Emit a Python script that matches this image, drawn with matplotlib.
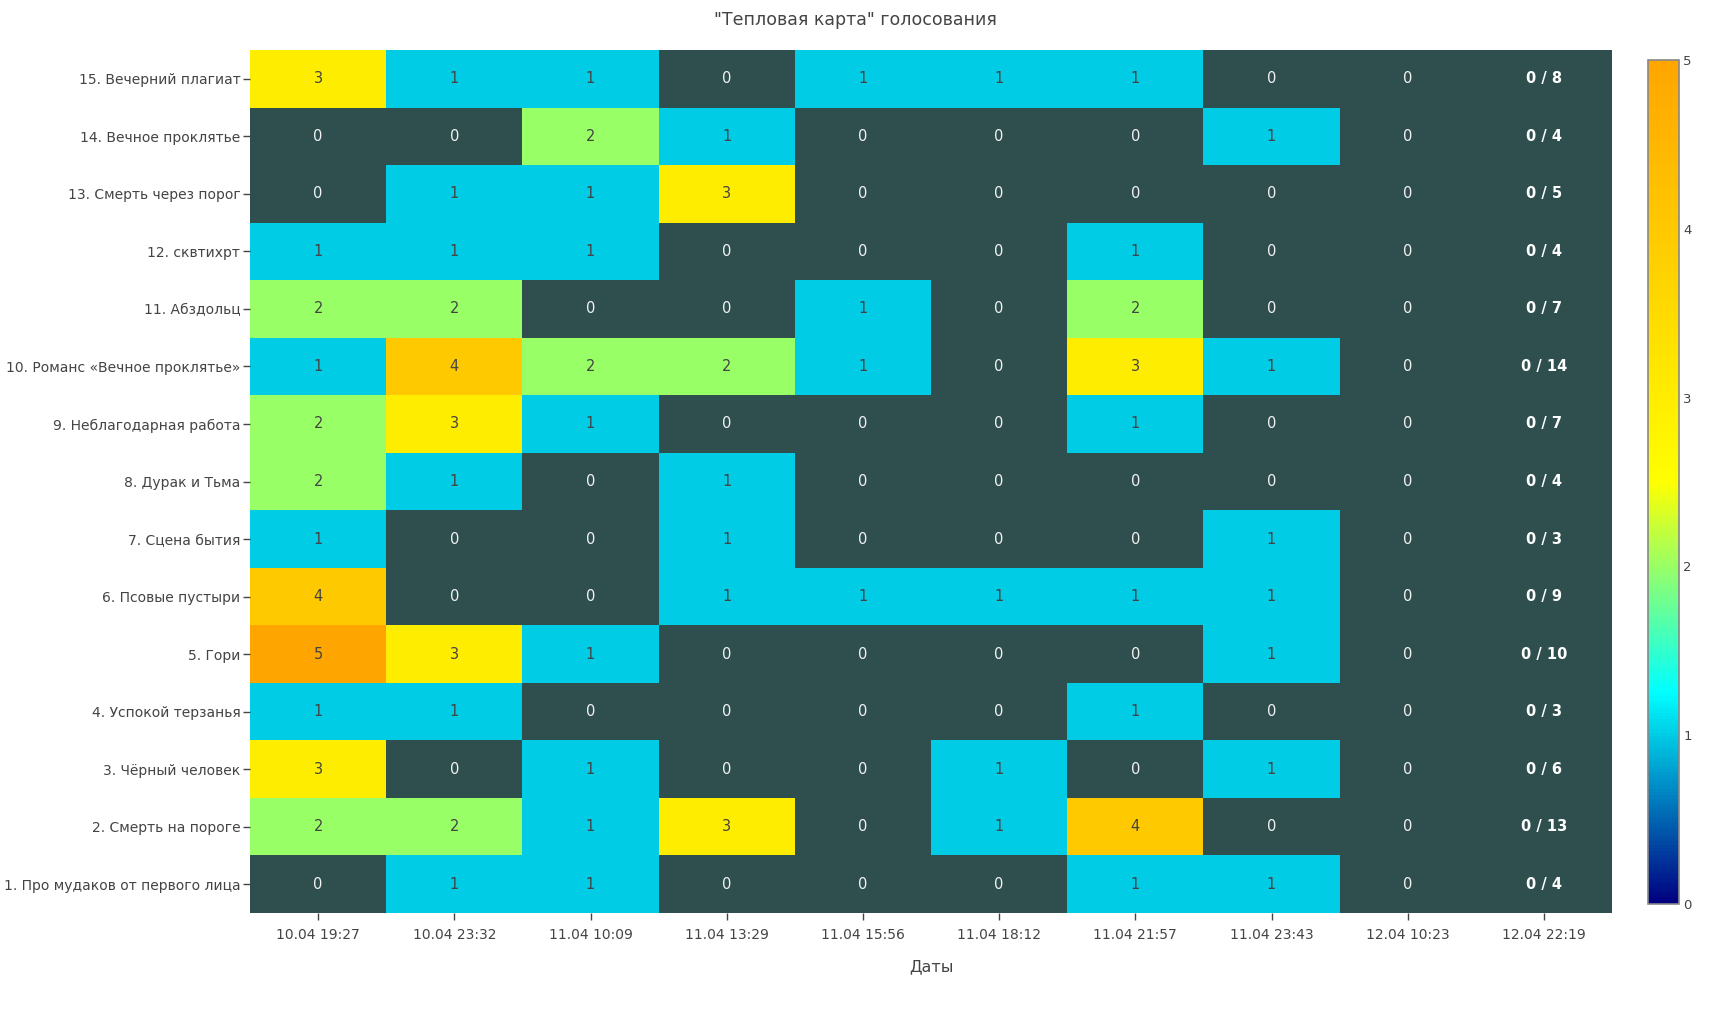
import numpy as np
import matplotlib
matplotlib.use("Agg")
import matplotlib.pyplot as plt
from matplotlib.colors import LinearSegmentedColormap

plt.rcParams['font.family'] = ['DejaVu Sans']

# ---- data ----
dates = ["10.04 19:27", "10.04 23:32", "11.04 10:09", "11.04 13:29", "11.04 15:56",
         "11.04 18:12", "11.04 21:57", "11.04 23:43", "12.04 10:23", "12.04 22:19"]

songs = ["1. Про мудаков от первого лица", "2. Смерть на пороге", "3. Чёрный человек",
         "4. Успокой терзанья", "5. Гори", "6. Псовые пустыри", "7. Сцена бытия",
         "8. Дурак и Тьма", "9. Неблагодарная работа", "10. Романс «Вечное проклятье»",
         "11. Абздольц", "12. сквтихрт", "13. Смерть через порог", "14. Вечное проклятье",
         "15. Вечерний плагиат"]

# votes per song (rows, bottom to top) for each date column
votes_01 = [0, 1, 1, 0, 0, 0, 1, 1, 0, 0]
votes_02 = [2, 2, 1, 3, 0, 1, 4, 0, 0, 0]
votes_03 = [3, 0, 1, 0, 0, 1, 0, 1, 0, 0]
votes_04 = [1, 1, 0, 0, 0, 0, 1, 0, 0, 0]
votes_05 = [5, 3, 1, 0, 0, 0, 0, 1, 0, 0]
votes_06 = [4, 0, 0, 1, 1, 1, 1, 1, 0, 0]
votes_07 = [1, 0, 0, 1, 0, 0, 0, 1, 0, 0]
votes_08 = [2, 1, 0, 1, 0, 0, 0, 0, 0, 0]
votes_09 = [2, 3, 1, 0, 0, 0, 1, 0, 0, 0]
votes_10 = [1, 4, 2, 2, 1, 0, 3, 1, 0, 0]
votes_11 = [2, 2, 0, 0, 1, 0, 2, 0, 0, 0]
votes_12 = [1, 1, 1, 0, 0, 0, 1, 0, 0, 0]
votes_13 = [0, 1, 1, 3, 0, 0, 0, 0, 0, 0]
votes_14 = [0, 0, 2, 1, 0, 0, 0, 1, 0, 0]
votes_15 = [3, 1, 1, 0, 1, 1, 1, 0, 0, 0]

z = np.array([votes_01, votes_02, votes_03, votes_04, votes_05, votes_06, votes_07,
              votes_08, votes_09, votes_10, votes_11, votes_12, votes_13, votes_14,
              votes_15], dtype=float)
totals = z.sum(axis=1).astype(int)

# ---- figure ----
W, H = 1711, 1013
fig = plt.figure(figsize=(W / 100, H / 100), dpi=100)
ax = fig.add_axes([250 / W, 1 - 913 / H, (1612 - 250) / W, (913 - 50) / H])

cmap = LinearSegmentedColormap.from_list(
    "vote", [(0.0, "#000080"), (0.25, "#00FFFF"), (0.5, "#FFFF00"), (1.0, "#FFA500")])
bg = "#2F4F4F"
ax.set_facecolor(bg)
zm = np.ma.masked_where(z == 0, z)
mesh = ax.pcolormesh(np.arange(len(dates) + 1) - 0.5, np.arange(len(songs) + 1) - 0.5,
                     zm, cmap=cmap, vmin=0, vmax=5)

nrows, ncols = z.shape
for i in range(nrows):
    for j in range(ncols):
        v = int(z[i, j])
        if j == ncols - 1:
            ax.text(j, i, f"{v} / {totals[i]}", ha="center", va="center",
                    fontsize=10.5, fontweight="bold", color="white")
        elif v == 0:
            ax.text(j, i, "0", ha="center", va="center", fontsize=10.5, color="#F2F2F2")
        else:
            ax.text(j, i, str(v), ha="center", va="center", fontsize=10.5, color="#444444")

ax.set_xlim(-0.5, ncols - 0.5)
ax.set_ylim(-0.5, nrows - 0.5)
ax.set_xticks(range(ncols))
ax.set_xticklabels(dates)
ax.set_yticks(range(nrows))
ax.set_yticklabels(songs)
for s in ax.spines.values():
    s.set_visible(False)
ax.tick_params(axis="both", colors="#444444", labelsize=10, length=5, width=1)
ax.tick_params(axis="x", pad=6)
ax.tick_params(axis="y", pad=2)
for t in ax.get_xticklabels() + ax.get_yticklabels():
    t.set_color("#444444")

ax.set_xlabel("Даты", fontsize=11.5, color="#444444", labelpad=12)
fig.text(0.5, 1 - 20 / H, "\"Тепловая карта\" голосования", ha="center", va="center",
         fontsize=12.5, color="#444444")

cax = fig.add_axes([1648 / W, 1 - 904 / H, (1679 - 1648) / W, (904 - 60) / H])
cb = fig.colorbar(mesh, cax=cax, ticks=[0, 1, 2, 3, 4, 5])
cb.outline.set_edgecolor("#888888")
cb.outline.set_linewidth(1.2)
cax.tick_params(length=0, labelsize=9.5, colors="#444444", pad=3)

fig.savefig("out.png", dpi=100)
